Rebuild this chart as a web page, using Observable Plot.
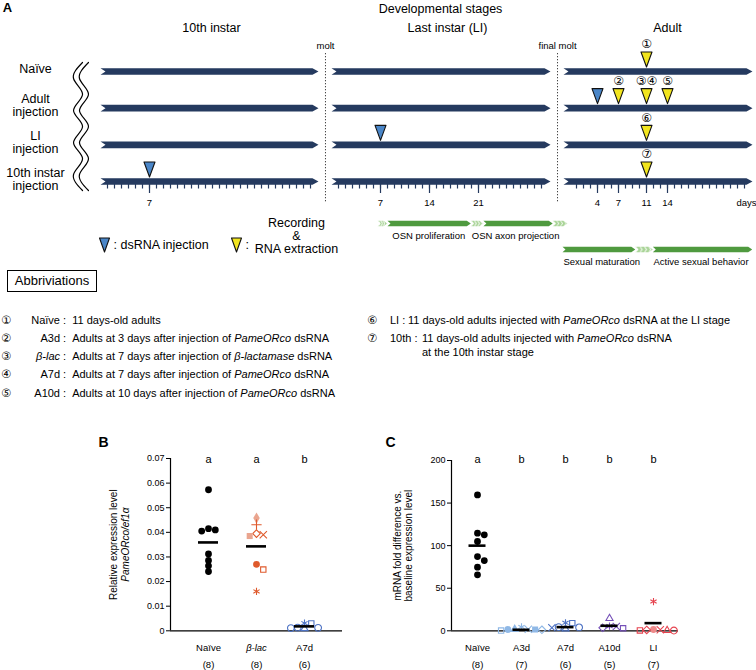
<!DOCTYPE html>
<html><head><meta charset="utf-8">
<script src="https://cdn.jsdelivr.net/npm/d3@7"></script>
<script src="https://cdn.jsdelivr.net/npm/@observablehq/plot@0.6"></script>
<style>
body{margin:0;background:#fff;}
#fig{position:relative;width:756px;height:670px;overflow:hidden;background:#fff;font-family:'Liberation Sans',Arial,Helvetica,sans-serif;color:#000;}
#fig .t{position:absolute;white-space:nowrap;font-size:11px;line-height:14px;}
#fig .c{font-family:'DejaVu Sans','Noto Sans CJK JP',sans-serif;font-size:11.5px;}
</style></head><body><div id="fig"></div>
<script>
// ================= DATA =================
// ---- Panel A : developmental timeline ----
const rowNames = ["Naïve", "Adult\ninjection", "LI\ninjection", "10th instar\ninjection"];
const stageNames = ["10th instar", "Last instar (LI)", "Adult"];
const stageOffset = [0, 33, 67];          // global day at which each stage's day 0 sits
const stageArrowFrom = [0, 0, -0.86];     // stage days
const stageArrowTo = [31.14, 31.29, 26.14];
const stageLabelAt = [15.86, 16.57, 14];
const moltNames = ["molt", "final molt"];
const moltAt = [32.14, 65.29];            // global days
const minorTicks = [d3.range(1, 31), d3.range(1, 31), d3.range(1, 26)];
const labeledTicks = [[7], [7, 14, 21], [4, 7, 11, 14]];
const injectionRow = [1, 2, 3];
const injectionStage = [2, 1, 0];
const injectionDay = [4, 7, 7];
const recordingRow = [0, 1, 1, 1, 2, 3];
const recordingDay = [11, 7, 11, 14, 11, 11];          // adult days
const recordingTag = ["①", "②", "③④", "⑤", "⑥", "⑦"];
// green bars (stage days): [from, to, kind]  s = solid, h = hatched
const osnBar = [[6.6, 8, "h"], [8, 19.9, "s"], [19.9, 21.7, "h"], [21.7, 31.6, "s"], [31.6, 33.7, "h"]];
const osnLabels = ["OSN proliferation", "OSN axon projection"];
const osnLabelAt = [13.9, 26.3];
const sexBar = [[-1, 9.4, "s"], [9.4, 11.9, "h"], [11.9, 26.1, "s"]];
const sexLabels = ["Sexual maturation", "Active sexual behavior"];
const sexLabelAt = [-0.86, 12];

// ---- Abbreviations ----
const abbrevTags = ["①", "②", "③", "④", "⑤", "⑥", "⑦"];
const abbrevNames = ["Naïve", "A3d", "<i>β-lac</i>", "A7d", "A10d", "LI", "10th"];
const abbrevTexts = [
  "11 days-old adults",
  "Adults at 3 days after injection of <i>PameORco</i> dsRNA",
  "Adults at 7 days after injection of <i>β-lactamase</i> dsRNA",
  "Adults at 7 days after injection of <i>PameORco</i> dsRNA",
  "Adults at 10 days after injection of <i>PameORco</i> dsRNA",
  "11 days-old adults injected with <i>PameORco</i> dsRNA at the LI stage",
  "11 days-old adults injected with <i>PameORco</i> dsRNA<br>at the 10th instar stage"
];

// ---- Panel B ----
const catsB = ["Naïve", "β-lac", "A7d"];
const nB = ["(8)", "(8)", "(6)"];
const lettersB = ["a", "a", "b"];
const ticksB = [0, 0.01, 0.02, 0.03, 0.04, 0.05, 0.06, 0.07];
const bNaive = [0.0573, 0.0415, 0.0410, 0.0405, 0.0312, 0.0286, 0.0264, 0.0241];
const bBlac = [0.0458, 0.0431, 0.0390, 0.0395, 0.0385, 0.0270, 0.0249, 0.0160];
const bA7d = [0.0011, 0.0030, 0.0031, 0.0013, 0.0009, 0.0012];
const meansB = [0.0359, 0.0343, 0.0018];
const bNaiveMarks = ["circle", "circle", "circle", "circle", "circle", "circle", "circle", "circle"];
const bBlacMarks = ["diamond-l", "plus", "times", "diamond-o", "square-l", "circle", "square-o", "asterisk"];
const bA7dMarks = ["circle-o", "square-o", "asterisk", "circle-o", "triangle-o", "circle-o"];

// ---- Panel C ----
const catsC = ["Naïve", "A3d", "A7d", "A10d", "LI"];
const nC = ["(8)", "(7)", "(6)", "(5)", "(7)"];
const lettersC = ["a", "b", "b", "b", "b"];
const ticksC = [0, 50, 100, 150, 200];
const cNaive = [159.6, 114.6, 112.7, 104.9, 87.2, 82.5, 74.7, 65.7];
const cA3d = [1.5, 1.8, 1.2, 0.3, 4.5, 1.5, 1.8];
const cA7d = [4.3, 9.0, 9.4, 4.0, 3.5, 2.3];
const cA10d = [5.5, 5.0, 14.5, 3.0, 3.5];
const cLI = [1.2, 1.5, 0.3, 0.5, 0.4, 1.0, 34.4];
const meansC = [100, 1.2, 4.3, 5.9, 9.0];
const cNaiveMarks = ["circle", "circle", "circle", "circle", "circle", "circle", "circle", "circle"];
const cA3dMarks = ["square", "times", "diamond-o", "square-o", "asterisk", "circle", "triangle"];
const cA7dMarks = ["circle-o", "square-o", "asterisk", "circle-o", "times", "triangle-o"];
const cA10dMarks = ["asterisk", "times", "triangle-o", "square-o", "diamond-o"];
const cLIMarks = ["times", "circle-l", "circle-o", "triangle-o", "square-o", "diamond-o", "asterisk"];

// ================= STYLE =================
const FONT = "'Liberation Sans', Arial, Helvetica, sans-serif";
const CIRC = "'DejaVu Sans','Noto Sans CJK JP',sans-serif";
const NAVY = "#253a5f", INJ = "#4a86c8", REC = "#f2e51e", GREEN = "#4f9a3f", GREEN_H = "#c3e1b6";
const colorsB = ["#000000", "#df5a2c", "#4d72c4"], lightB = ["#000", "#eaa58f", "#4d72c4"];
const colorsC = ["#000000", "#8fb8e6", "#4d72c4", "#7550b8", "#e6434f"], lightC = ["#000", "#8fb8e6", "#4d72c4", "#7550b8", "#ee8a8a"];

const fig = document.getElementById("fig");
function place(node, left, top) { node.style.position = "absolute"; node.style.left = left + "px"; node.style.top = top + "px"; fig.appendChild(node); return node; }

// ================= PANEL A =================
const PXD = 7, X0 = 100, ROW0 = 71, ROWPX = 36.67, AH = 270;
const ux = p => p / PXD, uy = p => p / ROWPX;
const G = (s, d) => stageOffset[s] + d;

function chevron(list, id, x0, x1, y, hPx, headPx, notchPx) {
  const h = uy(hPx), hd = ux(headPx), n = ux(notchPx);
  for (const [x, yy] of [[x0, y - h], [x1 - hd, y - h], [x1, y], [x1 - hd, y + h], [x0, y + h], [x0 + n, y]]) list.push({id, x, y: yy});
}
function tri(list, id, x, tip, wPx, hPx) {
  const w = ux(wPx) / 2, h = uy(hPx);
  for (const [a, b] of [[x - w, tip - h], [x + w, tip - h], [x, tip], [x - w, tip - h]]) list.push({id, x: a, y: b});
}

const arrowPts = [];
rowNames.forEach((_, r) => stageNames.forEach((_, s) => chevron(arrowPts, `a${r}${s}`, G(s, stageArrowFrom[s]), G(s, stageArrowTo[s]), r, 3.3, 6, 5)));

const OSN_ROW = 4.145, SEX_ROW = 4.855, LEG_ROW = 4.718;
const greenS = [], greenH = [];
osnBar.forEach(([a, b, k], i) => chevron(k === "s" ? greenS : greenH, `o${i}`, G(1, a), G(1, b), OSN_ROW, 2.8, 4, 3));
sexBar.forEach(([a, b, k], i) => chevron(k === "s" ? greenS : greenH, `x${i}`, G(2, a), G(2, b), SEX_ROW, 2.8, 4, 3));

const injTris = [], recTris = [];
injectionRow.forEach((r, i) => tri(injTris, `i${i}`, G(injectionStage[i], injectionDay[i]), r - uy(4.5), 11, 15));
const recKeys = new Set();
recordingRow.forEach((r, i) => { const k = r + "-" + recordingDay[i]; if (!recKeys.has(k)) { recKeys.add(k); tri(recTris, `r${i}`, G(2, recordingDay[i]), r - uy(4.5), 11, 15); } });
// legend triangles
tri(injTris, "legI", ux(104 - X0), LEG_ROW + uy(7.5), 10, 14);
tri(recTris, "legR", ux(236 - X0), LEG_ROW + uy(7.5), 10, 14);

// wavy break lines
const wavePts = [];
[-3.21, -2.36].forEach((cx, w) => d3.range(9).forEach(k => wavePts.push({id: w, x: cx + (k % 2 ? -1 : 1) * ux(4.5), y: uy(62 - ROW0) + k * uy(16)})));

const minorX = minorTicks.flatMap((ds, s) => ds.map(d => G(s, d)));
const majorT = labeledTicks.flatMap((ds, s) => ds.map(d => ({x: G(s, d), t: String(d)})));

const plotA = Plot.plot({
  width: 756, height: AH, margin: 0,
  x: {domain: [-X0 / PXD, (756 - X0) / PXD], range: [0, 756], axis: null},
  y: {domain: [-ROW0 / ROWPX, (AH - ROW0) / ROWPX], range: [0, AH], axis: null},
  style: {fontFamily: FONT, background: "transparent", overflow: "visible"},
  marks: [
    Plot.text(["A"], {x: ux(7 - X0), y: uy(7 - ROW0), text: d => d, fontWeight: "bold", fontSize: 13}),
    Plot.text(["Developmental stages"], {x: ux(440 - X0), y: uy(8 - ROW0), text: d => d, fontSize: 12.5}),
    Plot.text(stageNames, {x: (d, i) => G(i, stageLabelAt[i]), y: uy(27 - ROW0), text: d => d, fontSize: 12.5}),
    Plot.text(moltNames, {x: d => moltAt[moltNames.indexOf(d)], y: uy(45 - ROW0), text: d => d, fontSize: 9.5}),
    Plot.ruleX(moltAt, {y1: uy(53 - ROW0), y2: uy(203 - ROW0), stroke: "#444", strokeWidth: 1, strokeDasharray: "1.3,1.7"}),
    Plot.text(rowNames, {x: ux(35 - X0), y: (d, i) => i, dy: -2.5, text: d => d, fontSize: 12.5, lineHeight: 1.05}),
    Plot.line(wavePts, {x: "x", y: "y", z: "id", curve: "natural", stroke: "#000", strokeWidth: 1.2}),
    Plot.line(arrowPts, {x: "x", y: "y", z: "id", fill: NAVY, stroke: "none"}),
    Plot.ruleX(minorX, {y1: 3 + uy(3), y2: 3 + uy(7.5), stroke: NAVY, strokeWidth: 1.2}),
    Plot.ruleX(majorT, {x: "x", y1: 3 + uy(3), y2: 3 + uy(12), stroke: NAVY, strokeWidth: 1.2}),
    Plot.text(majorT, {x: "x", y: 3 + uy(21), text: "t", fontSize: 9.5}),
    Plot.text(["days"], {x: ux(746 - X0), y: 3 + uy(21), text: d => d, fontSize: 9.5}),
    Plot.line(injTris, {x: "x", y: "y", z: "id", fill: INJ, stroke: "#111", strokeWidth: 1.1}),
    Plot.line(recTris, {x: "x", y: "y", z: "id", fill: REC, stroke: "#111", strokeWidth: 1.1}),
    Plot.text(recordingTag, {x: (d, i) => G(2, recordingDay[i]), y: (d, i) => recordingRow[i] - uy(27), text: d => d, fontSize: 12, fontFamily: CIRC}),
    // legend
    Plot.text([": dsRNA injection"], {x: ux(113 - X0), y: LEG_ROW, text: d => d, textAnchor: "start", fontSize: 12.5}),
    Plot.text([":"], {x: ux(245 - X0), y: LEG_ROW, text: d => d, textAnchor: "start", fontSize: 12.5}),
    Plot.text(["Recording\n&\nRNA extraction"], {x: ux(296 - X0), y: LEG_ROW - uy(9), text: d => d, fontSize: 12.5, lineHeight: 1.04}),
    // green developmental bars
    Plot.line(greenH, {x: "x", y: "y", z: "id", fill: GREEN_H, stroke: "none"}),
    Plot.line(greenS, {x: "x", y: "y", z: "id", fill: GREEN, stroke: "none"}),
    Plot.text(osnLabels, {x: (d, i) => G(1, osnLabelAt[i]), y: OSN_ROW + uy(12), text: d => d, fontSize: 9.5}),
    Plot.text(sexLabels, {x: (d, i) => G(2, sexLabelAt[i]), y: SEX_ROW + uy(12), text: d => d, textAnchor: "start", fontSize: 9.5})
  ]
});
// chevron hatch pattern for the transition parts of the green bars
{
  const svg = d3.select(plotA);
  const pat = svg.insert("defs", ":first-child").append("pattern")
    .attr("id", "hatchG").attr("patternUnits", "objectBoundingBox").attr("width", 0.25).attr("height", 1);
  pat.append("rect").attr("width", 12).attr("height", 12).attr("fill", "#a9d497");
  pat.append("path").attr("d", "M0.5,0.3L2.6,2.8L0.5,5.3").attr("fill", "none").attr("stroke", "#fff").attr("stroke-width", 0.9);
  svg.selectAll(`[fill="${GREEN_H}"]`).attr("fill", "url(#hatchG)");
}
place(plotA, 0, 0);

// ================= ABBREVIATIONS =================
function div(cls, html, left, top, extra) {
  const d = document.createElement("div"); d.className = cls; d.innerHTML = html;
  d.style.left = left + "px"; d.style.top = top + "px"; if (extra) Object.assign(d.style, extra); fig.appendChild(d); return d;
}
div("t", "Abbriviations", 7, 270, {width: "88px", height: "20px", border: "1px solid #000", textAlign: "center", lineHeight: "20px", fontSize: "13px"});
const leftY = [320, 337.5, 355.5, 374, 392.5];
for (let i = 0; i < 5; i++) {
  div("t c", abbrevTags[i], 1, leftY[i] - 7);
  div("t", abbrevNames[i], 14, leftY[i] - 7, {width: "46px", textAlign: "right"});
  div("t", ":&nbsp;&nbsp;" + abbrevTexts[i], 63, leftY[i] - 7);
}
const rightY = [320, 337.5];
for (let i = 5; i < 7; i++) {
  const y = rightY[i - 5];
  div("t c", abbrevTags[i], 367, y - 7);
  div("t", abbrevNames[i] + "&nbsp;:&nbsp;", 390, y - 7);
}
div("t", abbrevTexts[5], 408, rightY[0] - 7);
div("t", abbrevTexts[6], 422, rightY[1] - 7);

// ================= PANELS B & C =================
const KIND = {
  "circle": ["circle", true], "circle-o": ["circle", false],
  "square": ["square", true], "square-o": ["square2", false],
  "diamond": ["diamond", true], "diamond-o": ["diamond2", false],
  "triangle": ["triangle", true], "triangle-o": ["triangle2", false],
  "plus": ["plus", false], "times": ["times", false], "asterisk": ["asterisk", false]
};
const R = 3.4;
function beeswarm(values, pxPerUnitY) {
  const order = d3.range(values.length).sort((a, b) => values[b] - values[a]);
  const placed = [], off = [];
  for (const i of order) {
    const y = values[i] * pxPerUnitY;
    for (let k = 0; ; k++) {
      const o = (k % 2 ? 1 : -1) * Math.ceil(k / 2) * 2 * R;
      if (placed.every(p => Math.hypot(p.o - o, p.y - y) >= 2 * R - 1.5)) { placed.push({o, y}); off[i] = o; break; }
    }
  }
  return off;
}
function points(groups, marks, colors, lights, pxPerUnitY, pxPerCat) {
  const pts = [];
  groups.forEach((vals, gi) => {
    const off = beeswarm(vals, pxPerUnitY);
    vals.forEach((v, j) => {
      let k = marks[gi][j]; const light = k.endsWith("-l"); if (light) k = k.slice(0, -2);
      const [sym, filled] = KIND[k]; const col = light ? lights[gi] : colors[gi];
      pts.push({x: gi + off[j] / pxPerCat, v, sym, fill: filled ? col : "none", stroke: filled ? "none" : col});
    });
  });
  return pts;
}
function panel(o) {
  const pts = points(o.groups, o.marks, o.colors, o.lights, o.pxPerUnitY, o.step);
  return Plot.plot({
    width: o.width, height: 250, marginLeft: o.ml, marginRight: o.mr, marginTop: o.mt, marginBottom: 49.7,
    x: {domain: o.xd, axis: null},
    y: {domain: [0, o.ymax], axis: null},
    color: {type: "identity"},
    style: {fontFamily: FONT, background: "transparent", overflow: "visible"},
    marks: [
      Plot.axisY({ticks: o.ticks, tickSize: 4, tickPadding: 2, tickFormat: o.fmt, fontSize: 9, strokeWidth: 1, label: null}),
      Plot.ruleX([o.xd[0]], {stroke: "#000", strokeWidth: 1.2}),
      Plot.ruleY([0], {stroke: "#000", strokeWidth: 1.2}),
      Plot.dot(pts, {x: "x", y: "v", symbol: "sym", fill: "fill", stroke: "stroke", r: R, strokeWidth: 1.1}),
      Plot.ruleY(o.means, {y: d => d, x1: (d, i) => i - o.hw / o.step, x2: (d, i) => i + o.hw / o.step, stroke: "#000", strokeWidth: 2.6}),
      Plot.text(o.cats, {x: (d, i) => i, y: 0, dy: 17, text: d => d, fontSize: 9.5, filter: d => !o.italic.includes(d)}),
      Plot.text(o.cats, {x: (d, i) => i, y: 0, dy: 17, text: d => d, fontSize: 9.5, fontStyle: "italic", filter: d => o.italic.includes(d)}),
      Plot.text(o.ns, {x: (d, i) => i, y: 0, dy: 34, text: d => d, fontSize: 9.5}),
      Plot.text(o.letters, {x: (d, i) => i, frameAnchor: "top", dy: 25 - o.mt, text: d => d, fontSize: 11}),
      Plot.text([o.tag], {frameAnchor: "top-left", dx: o.tagX - o.ml, dy: 12 - o.mt, text: d => d, textAnchor: "middle", lineAnchor: "middle", fontWeight: "bold", fontSize: 14}),
      Plot.text([o.title1], {frameAnchor: "left", dx: o.t1, rotate: -90, textAnchor: "middle", lineAnchor: "middle", text: d => d, fontSize: 10, fontStyle: o.title1Style || "normal"}),
      Plot.text([o.title2], {frameAnchor: "left", dx: o.t2, rotate: -90, textAnchor: "middle", lineAnchor: "middle", text: d => d, fontSize: 10, fontStyle: o.title2Style || "normal"})
    ]
  });
}
const fmtB = d => d === 0 ? "0" : d.toFixed(2);
const plotB = panel({
  width: 380, ml: 170, mr: 38, mt: 28, xd: [-38 / 48, 134 / 48], step: 48, hw: 10,
  ymax: 0.07, ticks: ticksB, fmt: fmtB, pxPerUnitY: 2460,
  groups: [bNaive, bBlac, bA7d], marks: [bNaiveMarks, bBlacMarks, bA7dMarks], colors: colorsB, lights: lightB,
  means: meansB, cats: catsB, italic: ["β-lac"], ns: nB, letters: lettersB,
  tag: "B", tagX: 103, title1: "Relative expression level", t1: -57, title2: "PameORco/ef1α", t2: -45, title2Style: "italic"
});
place(plotB, 0, 430);
const plotC = panel({
  width: 376, ml: 71, mr: 78, mt: 30, xd: [-26 / 44, 201 / 44], step: 44, hw: 8.5,
  ymax: 200, ticks: ticksC, fmt: d => String(d), pxPerUnitY: 0.8515,
  groups: [cNaive, cA3d, cA7d, cA10d, cLI], marks: [cNaiveMarks, cA3dMarks, cA7dMarks, cA10dMarks, cLIMarks], colors: colorsC, lights: lightC,
  means: meansC, cats: catsC, italic: [], ns: nC, letters: lettersC,
  tag: "C", tagX: 10, title1: "mRNA fold difference vs.", t1: -54, title2: "baseline expression level", t2: -43
});
place(plotC, 380, 430);
</script></body></html>
